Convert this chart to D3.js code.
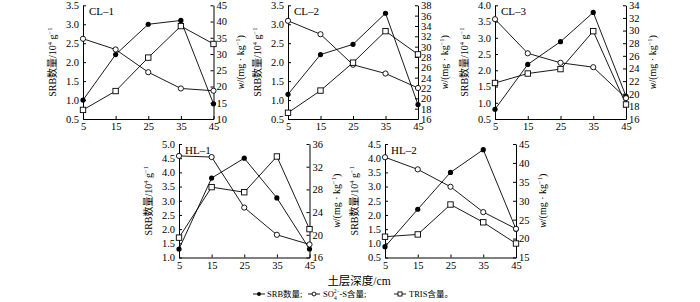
<!DOCTYPE html>
<html>
<head>
<meta charset="utf-8">
<script src="https://cdn.jsdelivr.net/npm/d3@7"></script>
<style>
  body { margin: 0; background: #fff; }
  svg text { font-family: "Liberation Serif", "Noto Sans CJK SC", serif; fill: #000; }
  .axis path, .axis line { stroke: #000; stroke-width: 1; }
  .axis text { font-size: 10.5px; }
</style>
</head>
<body>
<div id="chart"></div>
<script>
// soil depth (cm)
const depths = [5, 15, 25, 35, 45];

// SRB counts (10^4 g^-1), left axis
const srbCL1 = [1.0, 2.2, 3.0, 3.1, 0.9];
const srbCL2 = [1.15, 2.2, 2.47, 3.29, 0.88];
const srbCL3 = [0.8, 2.18, 2.88, 3.78, 1.2];
const srbHL1 = [1.3, 3.8, 4.5, 3.1, 1.3];
const srbHL2 = [0.88, 2.2, 3.5, 4.3, 1.5];

// SO4 2- -S content (mg/kg), right axis
const so4CL1 = [34.7, 31.4, 24.4, 19.4, 18.7];
const so4CL2 = [35.0, 32.4, 26.5, 24.8, 22.0];
const so4CL3 = [31.8, 26.4, 24.9, 24.2, 19.3];
const so4HL1 = [33.9, 33.7, 24.8, 20.0, 18.3];
const so4HL2 = [41.5, 38.3, 33.7, 27.0, 22.6];

// TRIS content (mg/kg), right axis
const trisCL1 = [12.8, 18.6, 28.9, 38.6, 33.1];
const trisCL2 = [17.2, 21.5, 26.9, 33.0, 28.5];
const trisCL3 = [21.7, 23.2, 23.9, 29.9, 18.3];
const trisHL1 = [19.5, 28.4, 27.5, 33.8, 21.0];
const trisHL2 = [20.5, 21.1, 29.0, 24.3, 18.7];

const panelNames = ["CL–1", "CL–2", "CL–3", "HL–1", "HL–2"];
const leftDomains = [[0.5, 3.5], [0.5, 3.5], [0.5, 4.0], [1.0, 5.0], [0.5, 4.5]];
const rightDomains = [[10, 45], [16, 38], [16, 34], [16, 36], [15, 45]];
const rightSteps = [5, 2, 2, 4, 5];

const srbAll = [srbCL1, srbCL2, srbCL3, srbHL1, srbHL2];
const so4All = [so4CL1, so4CL2, so4CL3, so4HL1, so4HL2];
const trisAll = [trisCL1, trisCL2, trisCL3, trisHL1, trisHL2];

// plot boxes [x0, x1, yTop, yBottom]
const boxes = [
  [83, 213.5, 5.3, 119],
  [288, 418, 5.3, 119],
  [495, 626, 5.3, 119],
  [179, 309.5, 144, 257.5],
  [385, 516, 144, 257.5]
];

const svg = d3.select("#chart").append("svg")
  .attr("width", 700).attr("height", 302);

function drawMarker(g, type, cx, cy, s) {
  s = s || 1;
  if (type === "srb") {
    g.append("circle").attr("cx", cx).attr("cy", cy).attr("r", 2.6 * s).attr("fill", "#000");
  } else if (type === "so4") {
    g.append("circle").attr("cx", cx).attr("cy", cy).attr("r", 2.6 * s)
      .attr("fill", "#fff").attr("stroke", "#000").attr("stroke-width", 0.9);
  } else {
    const h = 2.7 * s;
    g.append("rect").attr("x", cx - h).attr("y", cy - h).attr("width", 2 * h).attr("height", 2 * h)
      .attr("fill", "#fff").attr("stroke", "#000").attr("stroke-width", 0.9);
  }
}

boxes.forEach((b, i) => {
  const [x0, x1, y0, y1] = b;
  const x = d3.scaleLinear().domain([5, 45]).range([x0, x1]);
  const yL = d3.scaleLinear().domain(leftDomains[i]).range([y1, y0]);
  const yR = d3.scaleLinear().domain(rightDomains[i]).range([y1, y0]);
  const g = svg.append("g");

  const lTicks = d3.range(leftDomains[i][0], leftDomains[i][1] + 0.001, 0.5);
  const rTicks = d3.range(rightDomains[i][0], rightDomains[i][1] + 0.001, rightSteps[i]);

  g.append("g").attr("class", "axis")
    .attr("transform", `translate(${x0},0)`)
    .call(d3.axisLeft(yL).tickValues(lTicks).tickFormat(d3.format(".1f"))
      .tickSizeInner(-3).tickSizeOuter(0).tickPadding(4));

  g.append("g").attr("class", "axis")
    .attr("transform", `translate(${x1},0)`)
    .call(d3.axisRight(yR).tickValues(rTicks).tickFormat(d3.format("d"))
      .tickSizeInner(-3).tickSizeOuter(0).tickPadding(3));

  g.append("g").attr("class", "axis")
    .attr("transform", `translate(0,${y1})`)
    .call(d3.axisBottom(x).tickValues(depths).tickFormat(d3.format("d"))
      .tickSizeInner(-3).tickSizeOuter(0).tickPadding(4));

  g.selectAll(".axis .domain").attr("stroke", "#000");

  // panel label
  g.append("text").attr("x", x0 + 6).attr("y", y0 + 10)
    .style("font-size", "11px").text(panelNames[i]);

  // left axis title
  const lt = g.append("text")
    .attr("transform", `translate(${x0 - 27},${(y0 + y1) / 2}) rotate(-90)`)
    .attr("text-anchor", "middle").style("font-size", "10px");
  lt.append("tspan").text("SRB数量/10");
  lt.append("tspan").attr("dy", -4).style("font-size", "6.5px").text("4");
  lt.append("tspan").attr("dy", 4).text(" g");
  lt.append("tspan").attr("dy", -4).style("font-size", "6.5px").text("−1");

  // right axis title
  const rt = g.append("text")
    .attr("transform", `translate(${x1 + 30},${(y0 + y1) / 2}) rotate(-90)`)
    .attr("text-anchor", "middle").style("font-size", "10px");
  rt.append("tspan").style("font-style", "italic").text("w");
  rt.append("tspan").text("/(mg · kg");
  rt.append("tspan").attr("dy", -4).style("font-size", "6.5px").text("−1");
  rt.append("tspan").attr("dy", 4).text(")");

  const line = d3.line().x(d => x(d[0])).y(d => d[1]);
  const series = [
    { type: "srb", pts: depths.map((d, k) => [d, yL(srbAll[i][k])]) },
    { type: "so4", pts: depths.map((d, k) => [d, yR(so4All[i][k])]) },
    { type: "tris", pts: depths.map((d, k) => [d, yR(trisAll[i][k])]) }
  ];
  series.forEach(s => {
    g.append("path").attr("d", line(s.pts)).attr("fill", "none")
      .attr("stroke", "#000").attr("stroke-width", 0.9);
  });
  series.forEach(s => {
    s.pts.forEach(p => drawMarker(g, s.type, x(p[0]), p[1]));
  });
});

// x axis title
svg.append("text").attr("x", 359).attr("y", 285).attr("text-anchor", "middle")
  .style("font-size", "11.5px").text("土层深度/cm");

// legend
const lg = svg.append("g").attr("transform", "translate(0,297)");
function legendItem(xOff, type) {
  lg.append("line").attr("x1", xOff).attr("x2", xOff + 12).attr("y1", -3).attr("y2", -3)
    .attr("stroke", "#000").attr("stroke-width", 0.9);
  drawMarker(lg, type, xOff + 6, -3, 0.75);
}
legendItem(253, "srb");
lg.append("text").attr("x", 267).attr("y", 0).style("font-size", "8.5px").text("SRB数量;");
legendItem(308, "so4");
const t2 = lg.append("text").attr("x", 323).attr("y", 0).style("font-size", "8.5px");
t2.append("tspan").text("SO");
t2.append("tspan").attr("dy", 2.5).style("font-size", "5.5px").text("4");
t2.append("tspan").attr("dx", -3).attr("dy", -7).style("font-size", "5.5px").text("2−");
t2.append("tspan").attr("dy", 4.5).text("-S含量;");
legendItem(394, "tris");
lg.append("text").attr("x", 409).attr("y", 0).style("font-size", "8.5px").text("TRIS含量。");
</script>
</body>
</html>
